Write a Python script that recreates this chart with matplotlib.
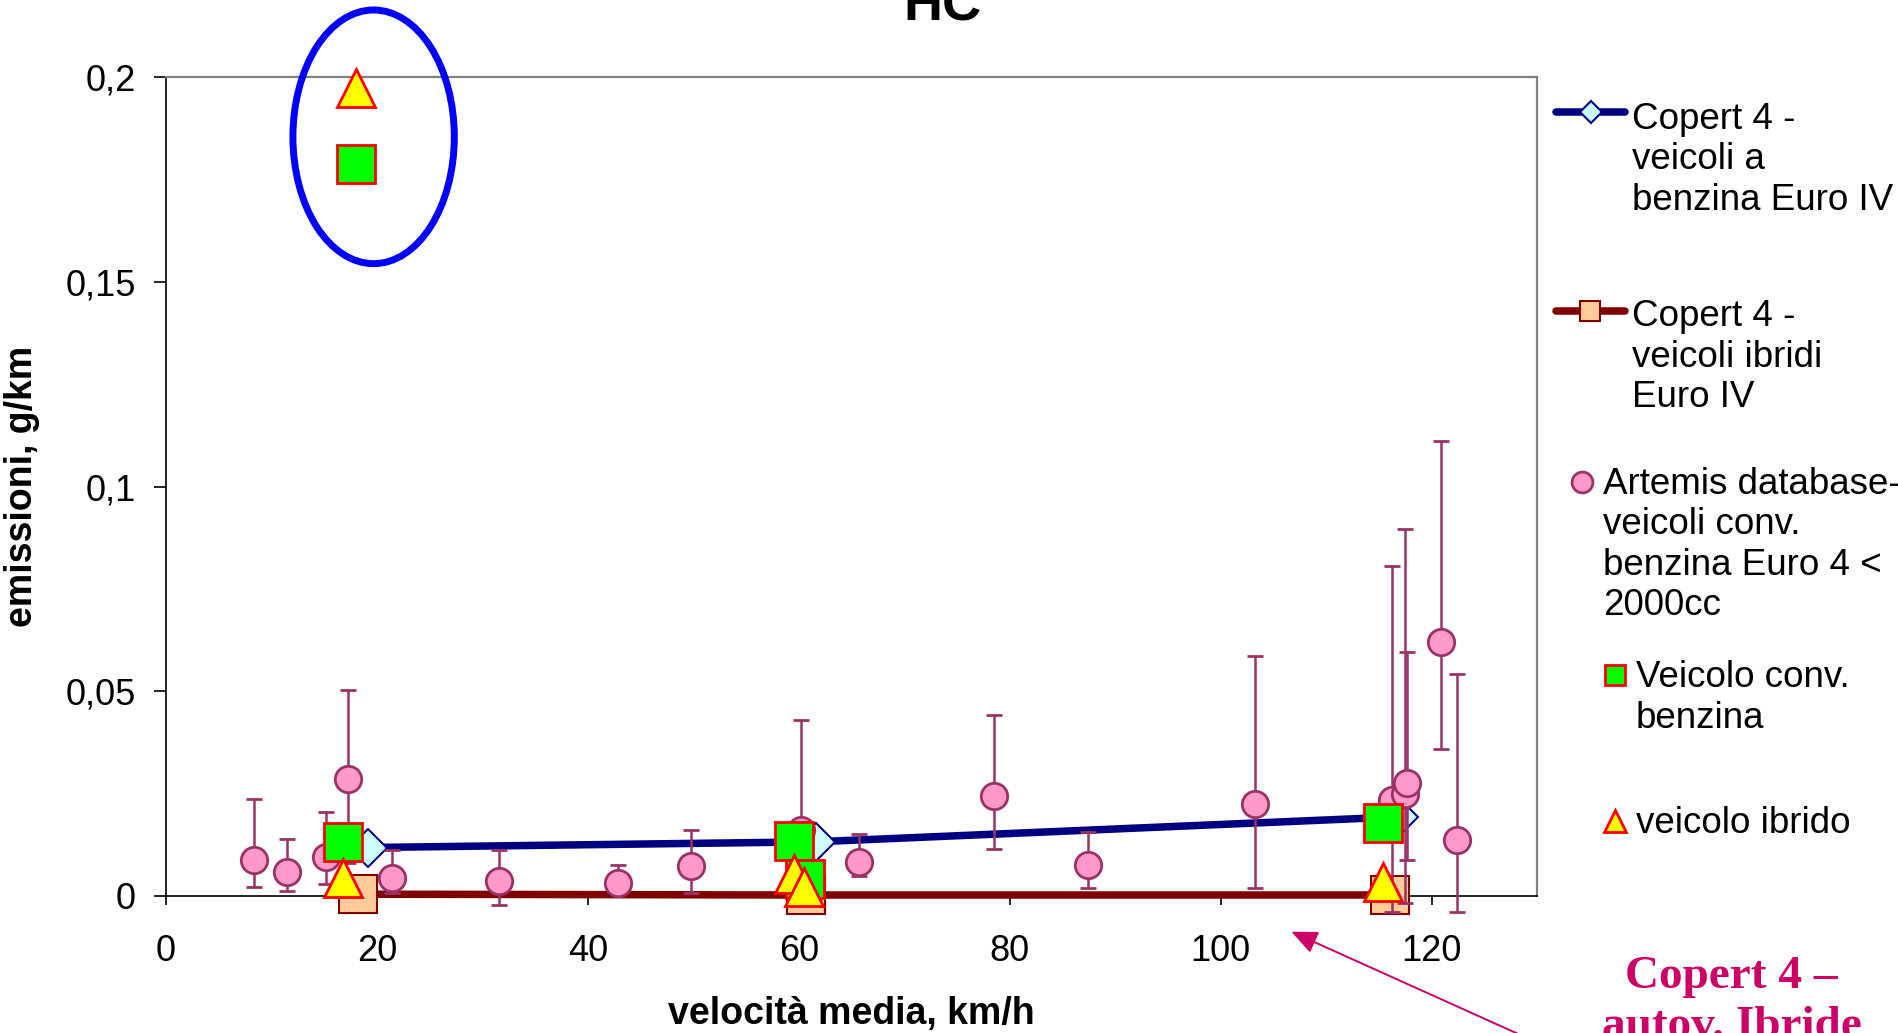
import matplotlib
matplotlib.use('Agg')
import matplotlib.pyplot as plt
from matplotlib.patches import Ellipse

plt.rcParams['font.family'] = ['Liberation Sans', 'DejaVu Sans']

# ---------------- data ----------------
title = 'HC'
x_label = 'velocità media, km/h'
y_label = 'emissioni, g/km'
x_ticks = [0, 20, 40, 60, 80, 100, 120]
y_ticks = [0, 0.05, 0.1, 0.15, 0.2]
y_tick_labels = ['0', '0,05', '0,1', '0,15', '0,2']

copert_petrol_x = [19.2, 61.6, 116.9]
copert_petrol_y = [0.0118, 0.0132, 0.0193]
copert_hybrid_x = [18.2, 60.7, 116.1]
copert_hybrid_y = [0.0004, 0.0002, 0.0002]

artemis_x = [8.4, 11.5, 15.2, 17.3, 21.4, 31.6, 42.9, 49.8, 60.2, 65.7,
             78.5, 87.4, 103.3, 116.2, 117.5, 117.7, 120.9, 122.4]
artemis_y = [0.0087, 0.0057, 0.0096, 0.0285, 0.0043, 0.0036, 0.0032, 0.0074, 0.0160, 0.0083,
             0.0243, 0.0075, 0.0225, 0.0234, 0.0250, 0.0275, 0.0621, 0.0136]
artemis_low = [0.0021, 0.0011, 0.0029, 0.0080, 0.0008, -0.0023, 0.0010, 0.0008, 0.0040, 0.0048,
               0.0115, 0.0019, 0.0020, -0.0040, -0.0018, 0.0087, 0.0359, -0.0040]
artemis_high = [0.0237, 0.0139, 0.0204, 0.0504, 0.0112, 0.0113, 0.0075, 0.0160, 0.0430, 0.0150,
                0.0442, 0.0157, 0.0587, 0.0806, 0.0896, 0.0595, 0.1111, 0.0541]

conv_x = [18.0, 16.8, 59.6, 60.6, 115.4]
conv_y = [0.1788, 0.0132, 0.0135, 0.0040, 0.0177]
hybrid_x = [18.0, 16.8, 59.6, 60.5, 115.4]
hybrid_y = [0.1975, 0.0043, 0.0054, 0.0022, 0.0033]

legend_labels = [
    'Copert 4 -\nveicoli a\nbenzina Euro IV',
    'Copert 4 -\nveicoli ibridi\nEuro IV',
    'Artemis database-\nveicoli conv.\nbenzina Euro 4 <\n2000cc',
    'Veicolo conv.\nbenzina',
    'veicolo ibrido',
]
annotation_text = 'Copert 4 –\nautov. Ibride'

# ---------------- styles ----------------
NAVY = '#000080'
DARKRED = '#800000'
PINK = '#FF99CC'
PLUM = '#993366'
GREEN = '#00FF00'
RED = '#FF0000'
YELLOW = '#FFFF00'
CRIMSON = '#CC0066'

W, H = 1898, 1033
fig = plt.figure(figsize=(W / 100, H / 100), dpi=100)
ax = fig.add_axes([0.08736, 0.1328, 0.7225, 0.7922])
ax.set_xlim(0, 130)
ax.set_ylim(0, 0.2)

petrol_style = dict(color=NAVY, lw=5.4, marker='D', mfc='#CCFFFF', mec=NAVY, mew=1.5,
                    solid_capstyle='round', solid_joinstyle='round')
hybrid_line_style = dict(color=DARKRED, lw=5.4, marker='s', mfc='#FFCC99', mec=DARKRED, mew=1.5,
                         solid_capstyle='round', solid_joinstyle='round')
artemis_style = dict(ls='none', marker='o', mfc=PINK, mec=PLUM, mew=2)
conv_style = dict(ls='none', marker='s', mfc=GREEN, mec=RED, mew=2)
hyb_style = dict(ls='none', marker='^', mfc=YELLOW, mec=RED, mew=2)

ax.plot(copert_petrol_x, copert_petrol_y, ms=19, zorder=3, clip_on=False, **petrol_style)
ax.plot(copert_hybrid_x, copert_hybrid_y, ms=27, zorder=3.1, clip_on=False, **hybrid_line_style)

err_lo = [y - lo for y, lo in zip(artemis_y, artemis_low)]
err_hi = [hi - y for y, hi in zip(artemis_y, artemis_high)]
eb = ax.errorbar(artemis_x, artemis_y, yerr=[err_lo, err_hi], ms=19, ecolor=PLUM,
                 elinewidth=1.8, capsize=5.5, capthick=1.8, zorder=4, **artemis_style)
for art in [eb.lines[0], *eb.lines[1], *eb.lines[2]]:
    art.set_clip_on(False)

ax.plot(conv_x, conv_y, ms=27, zorder=5, clip_on=False, **conv_style)
ax.plot(hybrid_x, hybrid_y, ms=28, zorder=6, clip_on=False, **hyb_style)

highlight = Ellipse((19.7, 0.1855), 15.3, 0.062, fill=False, edgecolor='#0000FF', lw=5,
                    clip_on=False, zorder=7)
ax.add_patch(highlight)

# axes styling
for side in ['top', 'right']:
    ax.spines[side].set_color('#808080')
    ax.spines[side].set_linewidth(1.6)
for side in ['left', 'bottom']:
    ax.spines[side].set_color('black')
    ax.spines[side].set_linewidth(1.2)

ax.set_xticks(x_ticks)
ax.set_yticks(y_ticks, labels=y_tick_labels)
ax.tick_params(axis='y', direction='out', length=9, width=1.2, pad=12.8, labelsize=26)
ax.tick_params(axis='x', direction='out', length=6.7, width=1.2, pad=21, labelsize=26)

ax.set_xlabel(x_label, fontsize=27, fontweight='bold')
ax.xaxis.set_label_coords(0.5, -0.123)
ax.set_ylabel(y_label, fontsize=27, fontweight='bold')
ax.yaxis.set_label_coords(-0.092, 0.5)

fig.text(0.4966, 1 - 20.7 / H, title, ha='center', va='baseline', fontsize=39, fontweight='bold')

# ---------------- legend (pixel overlay) ----------------
lg = fig.add_axes([0, 0, 1, 1])
lg.set_xlim(0, W)
lg.set_ylim(H, 0)
lg.axis('off')

lg.plot([1556, 1590.7, 1625], [112.3] * 3, markevery=[1], ms=11, clip_on=False, **petrol_style)
lg.text(1631.7, 102, legend_labels[0], ha='left', va='top', fontsize=26.5)
lg.plot([1556, 1590, 1625], [310.7] * 3, markevery=[1], ms=15, clip_on=False, **hybrid_line_style)
lg.text(1631.7, 299.4, legend_labels[1], ha='left', va='top', fontsize=26.5)
lg.plot([1581.7], [481.7], ms=15, clip_on=False, **artemis_style)
lg.text(1602.7, 467, legend_labels[2], ha='left', va='top', fontsize=26.5)
lg.plot([1615], [675], ms=15, clip_on=False, **conv_style)
lg.text(1636, 660.4, legend_labels[3], ha='left', va='top', fontsize=26.5)
lg.plot([1615], [821], ms=16, clip_on=False, **hyb_style)
lg.text(1636, 806.4, legend_labels[4], ha='left', va='top', fontsize=26.5)

# ---------------- annotation ----------------
lg.annotate('', xy=(1291.3, 931.7), xytext=(1525, 1037),
            arrowprops=dict(arrowstyle='-|>,head_length=0.8,head_width=0.35', color=CRIMSON,
                            lw=1.4, mutation_scale=20, shrinkA=0, shrinkB=0),
            annotation_clip=False)
lg.text(1731.6, 956.5, annotation_text, ha='center', va='top', color=CRIMSON,
        fontsize=34, fontweight='bold', family=['Liberation Serif', 'DejaVu Serif'],
        linespacing=1.25)

fig.savefig('out.png', dpi=100)
